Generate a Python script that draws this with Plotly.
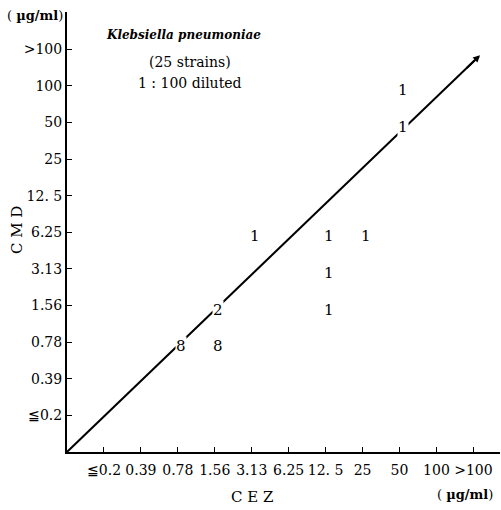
import plotly.graph_objects as go

# MIC categories (µg/ml), shared by both axes
mic_labels = ["≦0.2", "0.39", "0.78", "1.56", "3.13", "6.25", "12.5", "25", "50", "100", ">100"]
y_tick_labels = ["≦0.2", "0.39", "0.78", "1.56", "3.13", "6.25", "12. 5", "25", "50", "100", ">100"]
x_tick_labels = ["≦0.2", "0.39", "0.78", "1.56", "3.13", "6.25", "12. 5", "25", "50", "100", ">100"]

# strain counts at each (CEZ, CMD) MIC pair
cez_mic = ["0.78", "1.56", "1.56", "3.13", "12.5", "12.5", "12.5", "25", "50", "50"]
cmd_mic = ["0.78", "0.78", "1.56", "6.25", "6.25", "3.13", "1.56", "6.25", "100", "50"]
counts = [8, 8, 2, 1, 1, 1, 1, 1, 1, 1]

SERIF = "DejaVu Serif, Liberation Serif, serif"
idx = {lab: i for i, lab in enumerate(mic_labels)}

# plot area in pixels
L, R, T, B = 67, 500, 12, 452
PW, PH = R - L, B - T

fig = go.Figure()

# line of equality, ending in an arrow head
tip = (10.18, 9.84)
fig.add_trace(go.Scatter(
    x=[-1, tip[0] - 0.15], y=[-1, tip[1] - 0.145], mode="lines",
    line=dict(color="black", width=2), hoverinfo="skip", showlegend=False,
))
fig.add_annotation(
    x=tip[0], y=tip[1], ax=tip[0] - 0.4, ay=tip[1] - 0.39, xref="x", yref="y", axref="x", ayref="y",
    text="", showarrow=True, arrowhead=2, arrowsize=0.7, arrowwidth=2, arrowcolor="black",
)

# counts placed on the grid
for cx, cy, n in zip(cez_mic, cmd_mic, counts):
    fig.add_annotation(
        x=idx[cx], y=idx[cy], text=str(n), showarrow=False,
        xshift=3, yshift=-4, bgcolor="white", borderpad=0,
        font=dict(family=SERIF, size=15, color="black"),
    )

axis_style = dict(
    tickmode="array", tickvals=list(range(11)),
    ticks="inside", ticklen=5, tickwidth=1, tickcolor="black",
    showline=True, linecolor="black", linewidth=2, showgrid=False, zeroline=False,
    tickfont=dict(family=SERIF, size=14, color="black"),
)
fig.update_xaxes(range=[-1, 10.72], ticktext=x_tick_labels, ticklabelstandoff=4, **axis_style)
fig.update_yaxes(range=[-1, 11.02], ticktext=y_tick_labels, **axis_style)


def label(px, py, text, size=14, anchor="center", angle=0):
    fig.add_annotation(
        x=(px - L) / PW, y=(B - py) / PH, xref="paper", yref="paper",
        xanchor=anchor, yanchor="middle", text=text, textangle=angle, showarrow=False,
        font=dict(family=SERIF, size=size, color="black"),
    )


label(35, 16, "( <b>µg/ml</b>)", size=13)
label(183, 35, "<b><i>Klebsiella pneumoniae</i></b>", size=12)
label(190, 62, "(25 strains)", size=14)
label(190, 83, "1 : 100 diluted", size=14)
label(17, 230, "C M D", size=15, angle=-90)
label(252, 497, "C E Z", size=15)
label(465, 494, "( <b>µg/ml</b>)", size=13)

fig.update_layout(
    width=501, height=510,
    margin=dict(l=L, r=501 - R, t=T, b=510 - B),
    paper_bgcolor="white", plot_bgcolor="white",
    showlegend=False,
)

fig.write_html("out.html")
